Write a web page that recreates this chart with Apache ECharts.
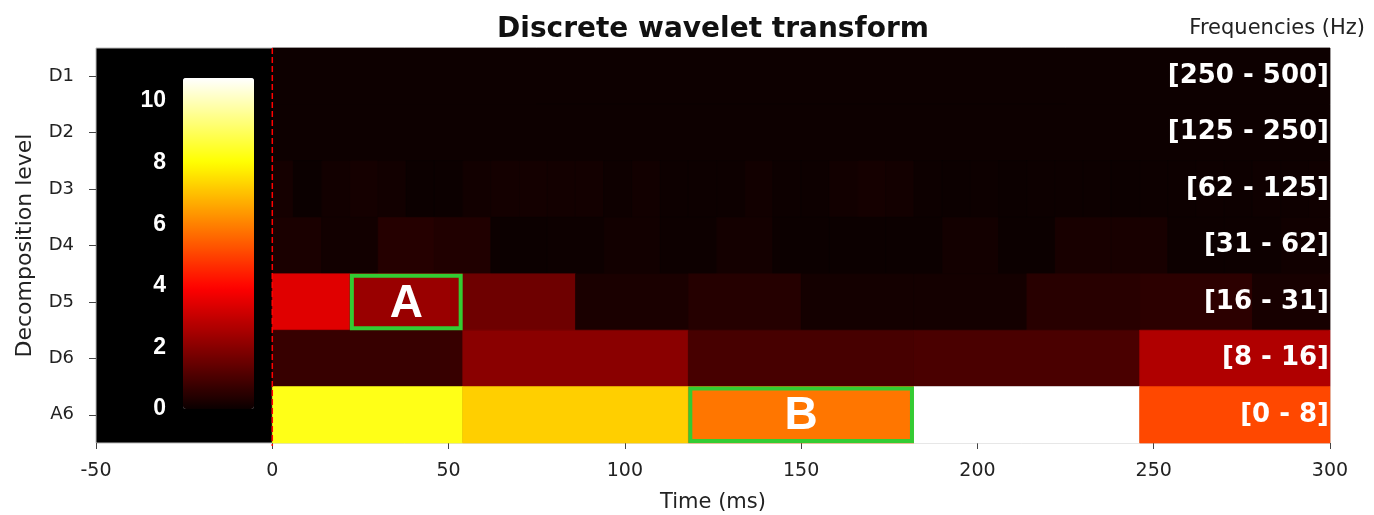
<!DOCTYPE html>
<html>
<head>
<meta charset="utf-8">
<script src="https://cdn.jsdelivr.net/npm/echarts@6/dist/echarts.min.js"></script>
<style>
  html, body { margin: 0; padding: 0; background: #fff; }
  #main { width: 1374px; height: 515px; }
</style>
</head>
<body>
<div id="main"></div>
<script>
// decomposition levels, top to bottom
var levels = ['D1', 'D2', 'D3', 'D4', 'D5', 'D6', 'A6'];
var freqBands = ['[250 - 500]', '[125 - 250]', '[62 - 125]', '[31 - 62]', '[16 - 31]', '[8 - 16]', '[0 - 8]'];

// cell edges (ms) and coefficient magnitude for each level
var d1Edges = [0, 300];
var d1Power = [0.03];
var d2Edges = [0, 300];
var d2Power = [0.04];
var d3Edges = [0, 6, 14, 22, 30, 38, 46, 54, 62, 70, 78, 86, 94, 102, 110, 118, 126, 134, 142, 150, 158, 166, 174, 182,
               190, 198, 206, 214, 222, 230, 238, 246, 254, 262, 270, 278, 286, 294, 300];
var d3Power = [0.17, 0.0, 0.12, 0.17, 0.12, 0.01, 0.01, 0.12, 0.15, 0.15, 0.14, 0.14, 0.05, 0.12, 0.04, 0.03, 0.03, 0.12,
               0.03, 0.03, 0.12, 0.17, 0.14, 0.03, 0.02, 0.03, 0.02, 0.03, 0.04, 0.03, 0.02, 0.04, 0.03, 0.05, 0.04,
               0.06, 0.05, 0.08];
var d4Edges = [0, 14, 30, 46, 62, 78, 94, 110, 126, 142, 158, 174, 190, 206, 222, 238, 254, 270, 286, 300];
var d4Power = [0.25, 0.12, 0.42, 0.33, 0.02, 0.03, 0.12, 0.03, 0.15, 0.02, 0.02, 0.02, 0.14, 0.02, 0.22, 0.22, 0.04, 0.04, 0.1];
var d5Edges = [0, 22, 54, 86, 118, 150, 182, 214, 246, 278, 300];
var d5Power = [3.42, 2.29, 1.59, 0.25, 0.42, 0.15, 0.15, 0.47, 0.53, 0.2];
var d6Edges = [0, 54, 118, 182, 246, 300];
var d6Power = [0.72, 2.04, 0.98, 1.03, 2.65];
var a6Edges = [0, 54, 118, 182, 246, 300];
var a6Power = [8.26, 7.26, 5.82, 10.75, 5.08];

var colorMax = 10.75;
var stimulusOnset = [0];

// highlighted windows: [start ms, end ms, level index, tag]
var boxA = [22, 54, 4, 'A'];
var boxB = [118, 182, 6, 'B'];

var edges = [d1Edges, d2Edges, d3Edges, d4Edges, d5Edges, d6Edges, a6Edges];
var power = [d1Power, d2Power, d3Power, d4Power, d5Power, d6Power, a6Power];
var cells = [];
for (var i = 0; i < levels.length; i++) {
  for (var j = 0; j < power[i].length; j++) {
    cells.push([edges[i][j], edges[i][j + 1], i, power[i][j]]);
  }
}

// matplotlib "hot" colormap
function hot(t) {
  var r = t < 0.365079 ? 0.0416 + (1 - 0.0416) * t / 0.365079 : 1;
  var g = t < 0.365079 ? 0 : (t < 0.746032 ? (t - 0.365079) / (0.746032 - 0.365079) : 1);
  var b = t < 0.746032 ? 0 : (t - 0.746032) / (1 - 0.746032);
  return 'rgb(' + Math.round(r * 255) + ',' + Math.round(g * 255) + ',' + Math.round(b * 255) + ')';
}
var hotColors = [];
for (var k = 0; k <= 64; k++) hotColors.push(hot(k / 64));

var myChart = echarts.init(document.getElementById('main'));

function cellRect(params, api) {
  var p0 = api.coord([api.value(0), api.value(2)]);
  var p1 = api.coord([api.value(1), api.value(2)]);
  var h = api.size([0, 1])[1];
  var c = api.visual('color');
  return {
    type: 'rect',
    shape: { x: p0[0], y: p0[1] - h / 2, width: p1[0] - p0[0], height: h },
    style: { fill: c, stroke: c, lineWidth: 0.6 }
  };
}

function boxRect(params, api) {
  var p0 = api.coord([api.value(0), api.value(2)]);
  var p1 = api.coord([api.value(1), api.value(2)]);
  var h = api.size([0, 1])[1];
  var lw = 4;
  return {
    type: 'group',
    children: [{
      type: 'rect',
      shape: { x: p0[0] + lw / 2, y: p0[1] - h / 2 + lw / 2, width: p1[0] - p0[0] - lw, height: h - lw },
      style: { fill: null, stroke: '#33cc33', lineWidth: lw }
    }, {
      type: 'text',
      x: (p0[0] + p1[0]) / 2,
      y: p0[1] + 2,
      style: {
        text: api.value(3), fill: '#fff', align: 'center', verticalAlign: 'middle',
        font: 'bold 46px "Liberation Sans", Arial, sans-serif'
      }
    }]
  };
}

// dashed onset line across the whole plot
function onsetLine(params, api) {
  var x = api.coord([api.value(0), 0])[0];
  var cs = params.coordSys;
  return {
    type: 'line',
    shape: { x1: x, y1: cs.y, x2: x, y2: cs.y + cs.height + 3 },
    style: { stroke: '#ff0000', lineWidth: 1.5, lineDash: [6, 3] }
  };
}

var option = {
  animation: false,
  title: [{
    text: 'Discrete wavelet transform',
    left: 708, top: 11, textAlign: 'center',
    textStyle: { fontFamily: 'DejaVu Sans', fontSize: 28, fontWeight: 'bold', color: '#111' }
  }, {
    text: 'Frequencies (Hz)',
    right: 4, top: 13,
    textStyle: { fontFamily: 'DejaVu Sans', fontSize: 21, fontWeight: 'normal', color: '#222' }
  }],
  grid: [{
    left: 96, right: 44, top: 48, bottom: 72, outerBoundsMode: 'none',
    show: true, backgroundColor: '#000', borderWidth: 1, borderColor: '#bbb'
  }, {
    left: 183, top: 78, width: 71, height: 331, outerBoundsMode: 'none'
  }],
  visualMap: {
    type: 'continuous', min: 0, max: colorMax, dimension: 3, seriesIndex: 0,
    calculable: false, hoverLink: false, padding: 0,
    left: 183, top: 78, itemWidth: 71, itemHeight: 331,
    inRange: { color: hotColors }, textStyle: { color: 'transparent' }
  },
  xAxis: [{
    type: 'value', min: -50, max: 300, interval: 50,
    name: 'Time (ms)', nameLocation: 'middle', nameGap: 49,
    nameTextStyle: { fontFamily: 'DejaVu Sans', fontSize: 21, color: '#222' },
    axisLine: { show: false, onZero: false },
    axisTick: { show: true, length: 6, lineStyle: { color: '#444' } },
    axisLabel: { fontFamily: 'DejaVu Sans', fontSize: 19, color: '#222', margin: 19 },
    splitLine: { show: false }
  }, {
    type: 'value', gridIndex: 1, show: false, min: 0, max: 1
  }],
  yAxis: [{
    type: 'category', data: levels, inverse: true,
    name: 'Decomposition level', nameLocation: 'middle', nameGap: 60, nameRotate: 90,
    nameTextStyle: { fontFamily: 'DejaVu Sans', fontSize: 22, color: '#222' },
    axisLine: { show: false, onZero: false },
    axisTick: { show: true, length: 7, alignWithLabel: true, lineStyle: { color: '#444' } },
    axisLabel: { fontFamily: 'DejaVu Sans', fontSize: 18, color: '#222', margin: 22 },
    splitLine: { show: false }
  }, {
    type: 'category', data: freqBands, inverse: true, position: 'right', z: 20,
    axisLine: { show: false, onZero: false }, axisTick: { show: false },
    axisLabel: {
      inside: true, margin: 1, color: '#fff',
      fontFamily: 'DejaVu Sans', fontSize: 26, fontWeight: 'bold'
    },
    splitLine: { show: false }
  }, {
    type: 'value', gridIndex: 1, min: 0, max: colorMax, interval: 2, z: 20,
    axisLine: { show: false, onZero: false }, axisTick: { show: false }, splitLine: { show: false },
    axisLabel: {
      showMaxLabel: false, margin: 17, color: '#fff',
      fontFamily: 'Liberation Sans', fontSize: 23, fontWeight: 'bold'
    }
  }],
  series: [{
    type: 'custom',
    renderItem: cellRect,
    encode: { x: [0, 1], y: 2 },
    data: cells,
    z: 2
  }, {
    type: 'custom',
    renderItem: onsetLine,
    encode: { x: 0 },
    data: stimulusOnset,
    z: 4
  }, {
    type: 'custom',
    renderItem: boxRect,
    encode: { x: [0, 1], y: 2 },
    data: [boxA, boxB],
    z: 5
  }]
};
myChart.setOption(option);
</script>
</body>
</html>
